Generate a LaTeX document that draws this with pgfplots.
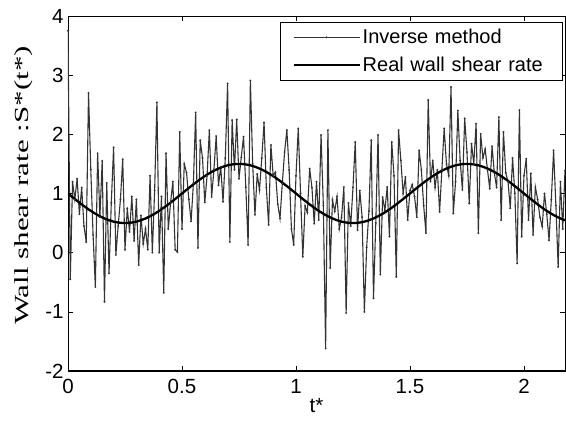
\documentclass[border=0pt]{standalone}
\usepackage{pgfplots}
\pgfplotsset{compat=1.18}
\usepackage{pgfplotstable}
\usepackage{fontspec}
\setmainfont{Liberation Sans}
\newfontfamily\seriffont{Liberation Serif}

\pgfplotstableread{
t y
0.00 3.75
0.01 -0.45
0.02 1.20
0.03 0.90
0.04 1.25
0.05 0.65
0.06 1.10
0.07 0.45
0.08 0.18
0.09 2.70
0.10 1.40
0.11 0.30
0.12 -0.58
0.13 1.68
0.14 0.60
0.15 1.55
0.16 -0.83
0.17 1.18
0.18 -0.35
0.19 0.85
0.20 1.78
0.21 -0.04
0.22 0.45
0.23 0.90
0.24 1.58
0.25 0.05
0.26 0.75
0.27 0.35
0.28 0.95
0.29 0.20
0.30 0.90
0.31 -0.21
0.32 0.63
0.33 0.15
0.34 0.40
0.35 0.05
0.36 1.30
0.37 0.00
0.38 1.05
0.39 2.54
0.40 0.00
0.41 0.95
0.42 -0.68
0.43 1.68
0.44 0.40
0.45 0.85
0.46 1.20
0.47 0.05
0.48 0.01
0.49 2.04
0.50 0.40
0.51 1.50
0.52 1.35
0.53 0.90
0.54 0.53
0.55 1.17
0.56 2.37
0.57 0.08
0.58 1.90
0.59 1.60
0.60 0.85
0.61 1.30
0.62 2.07
0.63 0.94
0.64 1.40
0.65 1.97
0.66 1.14
0.67 1.45
0.68 0.86
0.69 1.60
0.70 2.86
0.71 0.18
0.72 2.24
0.73 1.40
0.74 2.25
0.75 1.25
0.76 1.61
0.77 1.96
0.78 1.10
0.79 0.13
0.80 2.91
0.81 1.50
0.82 0.64
0.83 1.33
0.84 1.06
0.85 1.60
0.86 2.20
0.87 1.10
0.88 0.47
0.89 1.82
0.90 1.30
0.91 1.36
0.92 0.82
0.93 0.58
0.94 1.17
0.95 1.70
0.96 2.07
0.97 1.40
0.98 0.40
0.99 0.13
1.00 1.30
1.01 2.10
1.02 1.00
1.03 -0.07
1.04 0.79
1.05 0.68
1.06 1.42
1.07 1.10
1.08 0.49
1.09 1.20
1.10 0.55
1.11 1.99
1.12 0.80
1.13 -1.62
1.14 2.07
1.15 -0.26
1.16 0.89
1.17 0.70
1.18 0.95
1.19 0.40
1.20 0.60
1.21 1.11
1.22 -1.02
1.23 0.84
1.24 0.45
1.25 1.10
1.26 1.87
1.27 0.38
1.28 1.05
1.29 0.60
1.30 -1.00
1.31 0.09
1.32 0.70
1.33 1.90
1.34 -0.77
1.35 0.50
1.36 1.99
1.37 -0.37
1.38 0.94
1.39 0.71
1.40 1.11
1.41 0.27
1.42 1.87
1.43 1.30
1.44 -0.41
1.45 2.07
1.46 1.56
1.47 1.00
1.48 1.28
1.49 0.55
1.50 1.05
1.51 1.15
1.52 0.95
1.53 0.60
1.54 1.73
1.55 1.40
1.56 0.80
1.57 0.33
1.58 2.58
1.59 1.20
1.60 1.56
1.61 1.10
1.62 1.40
1.63 0.69
1.64 1.40
1.65 2.10
1.66 1.50
1.67 1.30
1.68 2.80
1.69 0.66
1.70 1.20
1.71 2.40
1.72 1.56
1.73 1.06
1.74 2.27
1.75 1.70
1.76 0.83
1.77 1.84
1.78 1.50
1.79 2.18
1.80 0.33
1.81 2.01
1.82 1.60
1.83 1.75
1.84 1.40
1.85 1.08
1.86 1.80
1.87 1.35
1.88 1.10
1.89 2.29
1.90 0.55
1.91 2.04
1.92 1.35
1.93 1.20
1.94 0.75
1.95 1.60
1.96 1.00
1.97 -0.18
1.98 2.41
1.99 0.27
2.00 1.30
2.01 1.59
2.02 0.55
2.03 1.34
2.04 0.30
2.05 1.11
2.06 0.90
2.07 0.60
2.08 0.44
2.09 1.00
2.10 0.65
2.11 0.21
2.12 0.90
2.13 1.73
2.14 0.80
2.15 -0.24
2.16 1.20
2.17 0.40
2.18 1.39
}\inverse

\pgfplotstableread{
t y
0.00 1.000
0.02 0.937
0.04 0.876
0.06 0.816
0.08 0.759
0.10 0.706
0.12 0.658
0.14 0.615
0.16 0.578
0.18 0.548
0.20 0.524
0.22 0.509
0.24 0.501
0.25 0.500
0.26 0.501
0.28 0.509
0.30 0.524
0.32 0.548
0.34 0.578
0.36 0.615
0.38 0.658
0.40 0.706
0.42 0.759
0.44 0.816
0.46 0.876
0.48 0.937
0.50 1.000
0.52 1.063
0.54 1.124
0.56 1.184
0.58 1.241
0.60 1.294
0.62 1.342
0.64 1.385
0.66 1.422
0.68 1.452
0.70 1.476
0.72 1.491
0.74 1.499
0.75 1.500
0.76 1.499
0.78 1.491
0.80 1.476
0.82 1.452
0.84 1.422
0.86 1.385
0.88 1.342
0.90 1.294
0.92 1.241
0.94 1.184
0.96 1.124
0.98 1.063
1.00 1.000
1.02 0.937
1.04 0.876
1.06 0.816
1.08 0.759
1.10 0.706
1.12 0.658
1.14 0.615
1.16 0.578
1.18 0.548
1.20 0.524
1.22 0.509
1.24 0.501
1.25 0.500
1.26 0.501
1.28 0.509
1.30 0.524
1.32 0.548
1.34 0.578
1.36 0.615
1.38 0.658
1.40 0.706
1.42 0.759
1.44 0.816
1.46 0.876
1.48 0.937
1.50 1.000
1.52 1.063
1.54 1.124
1.56 1.184
1.58 1.241
1.60 1.294
1.62 1.342
1.64 1.385
1.66 1.422
1.68 1.452
1.70 1.476
1.72 1.491
1.74 1.499
1.75 1.500
1.76 1.499
1.78 1.491
1.80 1.476
1.82 1.452
1.84 1.422
1.86 1.385
1.88 1.342
1.90 1.294
1.92 1.241
1.94 1.184
1.96 1.124
1.98 1.063
2.00 1.000
2.02 0.937
2.04 0.876
2.06 0.816
2.08 0.759
2.10 0.706
2.12 0.658
2.14 0.615
2.16 0.578
2.18 0.548
}\real

\begin{document}
\begin{tikzpicture}
\begin{axis}[
  name=ax,
  scale only axis,
  width=497bp, height=355bp,
  xmin=0, xmax=2.18, ymin=-2, ymax=4,
  xtick={0,0.5,1,1.5,2},
  ytick={-2,-1,0,1,2,3,4},
  xticklabels={0,0.5,1,1.5,2},
  yticklabels={-2,-1,0,1,2,3,4},
  tick align=inside,
  major tick length=5bp,
  tick style={black, line width=0.6bp},
  axis line style={black, line width=0.8bp},
  every tick label/.append style={font=\fontsize{20.5bp}{23bp}\selectfont},
  /pgf/number format/assume math mode=true,
  xticklabel style={yshift=-5bp},
  yticklabel style={xshift=-1bp},
  xlabel={t*},
  xlabel style={font=\fontsize{20.5bp}{23bp}\selectfont, yshift=2bp},
  ylabel={\scalebox{1.55}[1]{\seriffont Wall shear rate :S*(t*)}},
  ylabel style={font=\fontsize{20bp}{22bp}\selectfont, yshift=6bp, xshift=8bp},
  legend style={
    at={(axis description cs:1,1)}, anchor=north east,
    xshift=-2bp, yshift=-6bp,
    draw=black, line width=0.6bp,
    font=\fontsize{20bp}{23bp}\selectfont,
    inner xsep=12bp, inner ysep=5bp,
    row sep=8bp,
    cells={anchor=west},
    nodes={text width=186bp, align=left},
  },
  legend cell align=left,
  legend image code/.code={
    \draw[mark repeat=2, mark phase=2, #1] plot coordinates {(0bp,0bp) (33bp,0bp) (66bp,0bp)};
  },
]
\addplot[black!80, line width=1.1bp, mark=*, mark size=0.3bp] table[x=t,y=y] {\inverse};
\addlegendentry{Inverse method}
\addplot[black, line width=2.3bp, no marks] table[x=t,y=y] {\real};
\addlegendentry{Real wall shear rate}
\end{axis}
\draw[line width=1.6bp] (ax.south west) -- (ax.south east);
\pgfresetboundingbox
\path[use as bounding box] ([xshift=-68bp,yshift=-54bp]ax.south west) rectangle ([xshift=1bp,yshift=16bp]ax.north east);
\end{tikzpicture}
\end{document}
